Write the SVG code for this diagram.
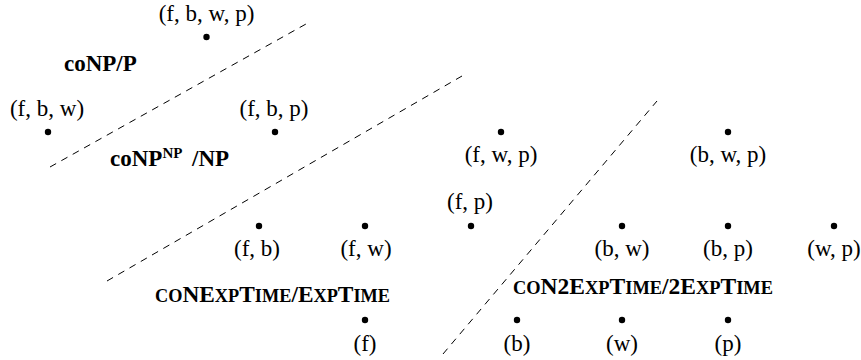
<svg xmlns="http://www.w3.org/2000/svg" width="861" height="360" viewBox="0 0 861 360">
<style>
text{font-family:"Liberation Serif","Times New Roman",serif;fill:#000}
.lab{font-size:23px;text-anchor:middle}
.cls{font-size:23px;font-weight:bold}
.sc{font-variant:small-caps;font-size:26.3px}
.sup{font-size:15px}
.dot{fill:#000}
.sep{stroke:#000;stroke-width:1;stroke-dasharray:7 6;fill:none}
</style>
<rect width="861" height="360" fill="#fff"/>
<g id="connectors">
<line class="sep" x1="50" y1="167" x2="306" y2="24"/>
<line class="sep" x1="107" y1="281" x2="462" y2="76"/>
<line class="sep" x1="443" y1="354" x2="657" y2="101"/>
</g>
<g id="n-fbwp"><circle class="dot" cx="206.5" cy="37" r="3.2"/><text class="lab" x="206.5" y="20.5">(f, b, w, p)</text></g>
<g id="n-fbw"><circle class="dot" cx="48" cy="132" r="3.2"/><text class="lab" x="47" y="116">(f, b, w)</text></g>
<g id="n-fbp"><circle class="dot" cx="275" cy="132" r="3.2"/><text class="lab" x="274" y="116">(f, b, p)</text></g>
<g id="n-fwp"><circle class="dot" cx="501" cy="132" r="3.2"/><text class="lab" x="501" y="162">(f, w, p)</text></g>
<g id="n-bwp"><circle class="dot" cx="728" cy="132" r="3.2"/><text class="lab" x="728" y="162">(b, w, p)</text></g>
<g id="n-fp"><circle class="dot" cx="471" cy="226" r="3.2"/><text class="lab" x="470" y="209">(f, p)</text></g>
<g id="n-fb"><circle class="dot" cx="259" cy="226" r="3.2"/><text class="lab" x="257" y="256">(f, b)</text></g>
<g id="n-fw"><circle class="dot" cx="365" cy="226" r="3.2"/><text class="lab" x="366" y="256">(f, w)</text></g>
<g id="n-bw"><circle class="dot" cx="622" cy="226" r="3.2"/><text class="lab" x="622" y="256">(b, w)</text></g>
<g id="n-bp"><circle class="dot" cx="728" cy="226" r="3.2"/><text class="lab" x="728" y="256">(b, p)</text></g>
<g id="n-wp"><circle class="dot" cx="834" cy="226" r="3.2"/><text class="lab" x="834" y="256">(w, p)</text></g>
<g id="n-f"><circle class="dot" cx="365" cy="320" r="3.2"/><text class="lab" x="365" y="351">(f)</text></g>
<g id="n-b"><circle class="dot" cx="517" cy="320" r="3.2"/><text class="lab" x="517" y="351">(b)</text></g>
<g id="n-w"><circle class="dot" cx="622" cy="320" r="3.2"/><text class="lab" x="622" y="351">(w)</text></g>
<g id="n-p"><circle class="dot" cx="728" cy="320" r="3.2"/><text class="lab" x="728" y="351">(p)</text></g>
<g id="r-conp"><text class="cls" x="64" y="70.5">coNP/P</text></g>
<g id="r-conpnp"><text class="cls" x="110" y="166">coNP<tspan class="sup" dy="-8">NP</tspan><tspan x="192" dy="8">/NP</tspan></text></g>
<g id="r-conexp"><text class="cls" x="155" y="302" textLength="235" lengthAdjust="spacingAndGlyphs"><tspan class="sc">co</tspan>NE<tspan class="sc">xp</tspan>T<tspan class="sc">ime</tspan>/E<tspan class="sc">xp</tspan>T<tspan class="sc">ime</tspan></text></g>
<g id="r-con2exp"><text class="cls" x="513" y="294" textLength="260" lengthAdjust="spacingAndGlyphs"><tspan class="sc">co</tspan>N2E<tspan class="sc">xp</tspan>T<tspan class="sc">ime</tspan>/2E<tspan class="sc">xp</tspan>T<tspan class="sc">ime</tspan></text></g>
</svg>
